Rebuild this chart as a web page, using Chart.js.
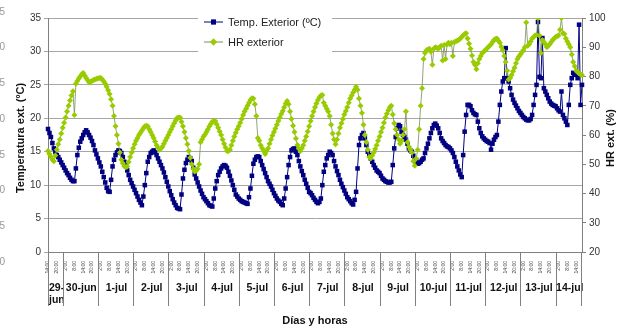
<!DOCTYPE html>
<html>
<head>
<meta charset="utf-8">
<script src="https://cdn.jsdelivr.net/npm/chart.js@4.4.1/dist/chart.umd.min.js"></script>
<style>
  html, body { margin: 0; padding: 0; background: #fff; }
</style>
</head>
<body>
<canvas id="climaChart" width="621" height="329"></canvas>
<script>
// Días del registro (el primero y el último están incompletos)
const dias = ['29-jun', '30-jun', '1-jul', '2-jul', '3-jul', '4-jul', '5-jul', '6-jul',
              '7-jul', '8-jul', '9-jul', '10-jul', '11-jul', '12-jul', '13-jul', '14-jul'];
// Horas de lectura
const horasPrimerDia = [14, 15, 16, 17, 18, 19, 20, 21, 22, 23];
const horasDia = [0, 1, 2, 3, 4, 5, 6, 7, 8, 9, 10, 11, 12, 13, 14, 15, 16, 17, 18, 19, 20, 21, 22, 23];
const horasUltimoDia = [0, 1, 2, 3, 4, 5, 6, 7, 8, 9, 10, 11, 12, 13, 14, 15, 16, 17, 18];

// Temperatura exterior (ºC), una fila por día
const tempExt = [
  18.4, 17.8, 17.2, 16.3, 15.5, 15.0, 14.5, 14.2, 13.8, 13.4,
  13.0, 12.6, 12.2, 11.8, 11.5, 11.1, 10.8, 10.6, 10.6, 12.5, 14.5, 15.6, 16.5, 17.0, 17.5, 17.9, 18.2, 17.9, 17.5, 17.1, 16.6, 16.0, 15.2, 14.6,
  14.0, 13.4, 12.8, 12.0, 11.2, 10.4, 9.6, 9.1, 9.0, 10.8, 12.8, 13.8, 14.5, 14.9, 15.2, 15.1, 14.8, 14.2, 13.5, 12.9, 12.2, 11.5, 10.8, 10.3,
  9.8, 9.3, 8.8, 8.3, 7.8, 7.4, 7.0, 8.3, 10.0, 11.8, 13.5, 14.2, 14.8, 15.0, 15.2, 14.9, 14.5, 14.0, 13.5, 13.0, 12.5, 11.9, 11.2, 10.5,
  9.8, 9.1, 8.5, 7.9, 7.4, 7.0, 6.6, 6.5, 6.4, 8.6, 11.0, 12.3, 13.3, 13.8, 14.2, 14.0, 13.6, 12.6, 11.6, 11.0, 10.4, 9.8, 9.2, 8.7,
  8.2, 7.9, 7.6, 7.3, 7.0, 6.9, 6.8, 8.0, 9.5, 10.6, 11.5, 12.0, 12.5, 12.8, 13.0, 12.9, 12.6, 12.0, 11.4, 10.7, 10.0, 9.3, 8.6, 8.3,
  8.0, 7.8, 7.6, 7.5, 7.4, 7.3, 7.2, 8.2, 9.5, 11.4, 13.2, 13.8, 14.2, 14.3, 14.2, 13.6, 13.0, 12.4, 11.8, 11.2, 10.6, 10.2, 9.8, 9.3,
  8.8, 8.4, 8.0, 7.7, 7.5, 7.2, 7.0, 8.0, 9.5, 11.2, 13.0, 14.2, 15.2, 15.4, 15.5, 15.0, 14.5, 13.6, 12.8, 12.1, 11.5, 10.8, 10.2, 9.6,
  9.0, 8.8, 8.5, 8.1, 7.8, 7.5, 7.3, 7.5, 8.0, 10.0, 12.0, 13.0, 14.0, 14.5, 15.0, 14.8, 14.5, 13.6, 12.8, 12.1, 11.5, 10.8, 10.2, 9.7,
  9.2, 8.7, 8.2, 7.9, 7.6, 7.3, 7.1, 7.8, 9.0, 12.5, 16.0, 17.0, 17.5, 17.8, 17.0, 16.0, 15.0, 14.5, 14.0, 13.5, 13.0, 12.6, 12.2, 12.0,
  11.8, 11.4, 11.0, 10.8, 10.6, 10.5, 10.4, 10.4, 10.5, 13.0, 15.5, 17.2, 18.5, 19.0, 18.8, 18.0, 17.5, 17.2, 16.8, 16.2, 15.5, 15.2, 15.0, 14.4,
  13.8, 13.5, 13.2, 13.3, 13.5, 13.8, 14.0, 14.8, 15.5, 16.2, 17.0, 17.8, 18.5, 19.0, 19.2, 18.9, 18.5, 17.8, 17.0, 16.6, 16.3, 16.0, 15.8, 15.7,
  15.5, 15.2, 14.8, 14.2, 13.5, 12.8, 12.2, 11.6, 11.2, 14.5, 18.0, 20.5, 22.0, 22.0, 21.8, 21.2, 20.8, 20.6, 20.5, 19.5, 18.5, 17.8, 17.3, 17.0,
  16.8, 16.6, 16.5, 16.3, 15.3, 16.2, 16.8, 17.2, 17.5, 19.5, 22.0, 24.0, 25.5, 26.0, 30.5, 26.0, 25.5, 24.5, 23.5, 22.8, 22.3, 21.9, 21.5, 21.1,
  20.8, 20.5, 20.2, 20.0, 19.8, 19.7, 19.7, 19.9, 20.5, 22.0, 23.5, 25.0, 34.4, 26.2, 26.0, 32.0, 24.5, 24.0, 23.5, 23.0, 22.5, 22.2, 22.0, 21.9,
  21.8, 21.5, 21.2, 21.0, 24.0, 20.5, 20.0, 19.5, 19.0, 22.0, 25.0, 26.0, 26.8, 26.6, 26.5, 26.0, 34.0, 22.0, 25.0
];

// Humedad relativa exterior (%), una fila por día
const hrExt = [
  54.5, 53.5, 52.5, 51.5, 51.0, 53.0, 55.0, 56.8, 58.5, 60.5,
  62.5, 64.2, 66.0, 68.0, 70.0, 71.8, 73.5, 75.0, 66.8, 77.5, 78.5, 79.3, 80.0, 80.8, 81.2, 80.3, 79.5, 78.8, 78.0, 78.2, 78.5, 78.8, 79.0, 79.2,
  79.3, 79.5, 79.5, 79.0, 78.3, 77.5, 76.5, 75.3, 74.0, 72.2, 70.0, 66.5, 63.0, 60.0, 57.0, 54.0, 51.5, 50.3, 49.3, 49.0, 49.2, 50.8, 52.5, 54.0,
  55.5, 56.8, 58.0, 59.0, 60.0, 60.8, 61.5, 62.3, 63.0, 63.2, 63.0, 62.0, 61.0, 60.0, 59.0, 57.8, 56.5, 55.6, 55.0, 55.4, 56.0, 57.0, 58.0, 59.0,
  60.0, 61.0, 62.0, 63.0, 64.0, 65.0, 65.8, 66.0, 66.0, 64.5, 63.0, 61.0, 59.0, 56.8, 54.5, 52.2, 50.0, 48.5, 47.5, 47.8, 48.5, 50.0, 57.5, 58.5,
  59.5, 60.2, 61.0, 62.0, 63.0, 63.8, 64.5, 64.8, 64.8, 63.7, 62.5, 61.2, 60.0, 58.5, 57.0, 55.7, 54.5, 54.5, 55.0, 56.5, 58.0, 59.5, 60.8, 62.0,
  63.0, 64.2, 65.5, 66.8, 68.0, 69.0, 70.0, 71.0, 72.0, 72.6, 72.5, 70.5, 66.5, 59.0, 58.0, 56.5, 55.5, 54.5, 53.5, 54.5, 55.5, 57.0, 58.5, 59.8,
  61.0, 62.2, 63.5, 64.8, 66.0, 67.2, 68.2, 69.5, 70.8, 71.6, 70.5, 68.0, 65.5, 63.2, 61.0, 58.8, 56.6, 55.4, 54.5, 55.5, 56.5, 58.0, 59.5, 61.2,
  63.0, 64.8, 66.5, 68.0, 69.5, 70.8, 72.0, 72.8, 73.5, 73.7, 71.0, 70.0, 69.0, 68.0, 66.5, 63.5, 60.5, 58.5, 56.8, 58.5, 60.5, 62.5, 64.0, 65.5,
  67.0, 68.2, 69.5, 71.0, 72.5, 73.5, 74.5, 75.5, 76.5, 75.5, 72.5, 70.0, 67.5, 63.5, 60.0, 57.5, 55.0, 52.5, 52.0, 53.0, 54.0, 55.2, 56.5, 58.0,
  59.5, 61.0, 62.5, 64.2, 66.0, 67.3, 68.5, 69.5, 70.0, 67.0, 64.0, 62.0, 60.0, 58.5, 57.0, 58.0, 60.0, 62.0, 68.0, 57.5, 56.0, 55.0, 54.0, 51.0,
  49.5, 52.0, 55.0, 62.0, 70.0, 76.0, 86.0, 88.0, 89.0, 89.2, 89.5, 88.5, 84.0, 89.5, 90.0, 89.8, 89.5, 90.0, 90.5, 85.5, 90.8, 86.0, 91.0, 91.5,
  91.0, 91.5, 87.0, 91.8, 92.0, 92.3, 92.5, 93.0, 93.5, 94.0, 94.5, 94.8, 93.0, 91.2, 89.5, 87.2, 85.0, 84.0, 82.5, 84.5, 86.0, 87.0, 88.0, 88.5,
  89.0, 89.5, 90.0, 90.5, 91.0, 91.8, 92.5, 92.8, 93.0, 92.2, 91.5, 90.2, 89.0, 87.0, 85.0, 82.0, 79.0, 79.5, 80.5, 81.8, 83.0, 84.5, 86.0, 86.8,
  87.5, 88.3, 89.0, 90.0, 98.5, 90.5, 91.0, 92.0, 93.0, 93.5, 94.0, 94.2, 100.0, 94.0, 88.0, 92.5, 91.8, 91.0, 90.0, 90.5, 91.0, 91.8, 92.5, 93.0,
  93.5, 93.8, 94.0, 96.0, 100.0, 94.8, 94.5, 93.0, 92.0, 91.0, 90.0, 87.5, 85.0, 83.5, 82.0, 81.5, 81.0, 80.8, 80.5
];

// Restos del eje de otro gráfico que asoman por la izquierda
const ejeFantasma = ['35', '30', '25', '20', '15', '10', '5', '0'];

// Etiquetas horarias e índice donde empieza cada día
const etiquetas = [];
const inicioDia = [];
dias.forEach(function (dia, d) {
  let horas = horasDia;
  if (d === 0) horas = horasPrimerDia;
  if (d === dias.length - 1) horas = horasUltimoDia;
  inicioDia.push(etiquetas.length);
  horas.forEach(function (h) { etiquetas.push(h + ':00'); });
});

const azul = '#000080';
const verde = '#99cc00';
const lineaHr = '#7a8a5a';
const gris = '#808080';
Chart.defaults.font.family = "'Liberation Sans', Arial, sans-serif";
Chart.defaults.color = '#222';

// Leyenda, días, títulos de ejes
const decoracion = {
  id: 'decoracion',
  afterDraw(chart) {
    const ctx = chart.ctx;
    const area = chart.chartArea;
    const x = chart.scales.x;
    ctx.save();

    // leyenda dentro del área
    ctx.fillStyle = '#fff';
    ctx.fillRect(198, 11, 134, 44);
    const filas = [['Temp. Exterior (ºC)', azul, azul, 'rect', 22],
                   ['HR exterior', verde, lineaHr, 'rectRot', 42]];
    filas.forEach(function (f) {
      ctx.strokeStyle = f[2];
      ctx.lineWidth = 1;
      ctx.beginPath();
      ctx.moveTo(204, f[4]);
      ctx.lineTo(223, f[4]);
      ctx.stroke();
      ctx.fillStyle = f[1];
      Chart.helpers.drawPoint(ctx, { pointStyle: f[3], radius: 3.4, borderWidth: 0 }, 213.5, f[4]);
      ctx.fill();
      ctx.fillStyle = '#222';
      ctx.font = "11px 'Liberation Sans', Arial, sans-serif";
      ctx.textAlign = 'left';
      ctx.textBaseline = 'middle';
      ctx.fillText(f[0], 228, f[4] + 0.5);
    });

    // separadores y nombres de los días
    ctx.strokeStyle = gris;
    ctx.lineWidth = 1;
    ctx.font = "bold 10.5px 'Liberation Sans', Arial, sans-serif";
    ctx.fillStyle = '#111';
    ctx.textBaseline = 'middle';
    dias.forEach(function (dia, d) {
      const x0 = d === 0 ? area.left : x.getPixelForValue(inicioDia[d]);
      const x1 = d === dias.length - 1 ? area.right : x.getPixelForValue(inicioDia[d + 1]);
      ctx.beginPath();
      ctx.moveTo(Math.round(x0) + 0.5, area.bottom);
      ctx.lineTo(Math.round(x0) + 0.5, 306);
      ctx.stroke();
      if (d === 0) {
        ctx.textAlign = 'left';
        const partes = dia.split('-');
        ctx.fillText(partes[0] + '-', x0 + 1, 288);
        ctx.fillText(partes[1], x0 + 1, 300);
      } else {
        ctx.textAlign = 'center';
        ctx.fillText(dia, (x0 + x1) / 2 + 1, 288);
      }
    });
    ctx.beginPath();
    ctx.moveTo(Math.round(area.right) - 0.5, area.bottom);
    ctx.lineTo(Math.round(area.right) - 0.5, 306);
    ctx.stroke();

    // títulos
    ctx.font = "bold 11px 'Liberation Sans', Arial, sans-serif";
    ctx.textAlign = 'center';
    ctx.fillStyle = '#111';
    ctx.fillText('Días y horas', (area.left + area.right) / 2, 321);
    ctx.save();
    ctx.translate(21, 138);
    ctx.rotate(-Math.PI / 2);
    ctx.fillText('Temperatura ext. (ºC)', 0, 0);
    ctx.restore();
    ctx.save();
    ctx.translate(611, 138);
    ctx.rotate(-Math.PI / 2);
    ctx.fillText('HR ext. (%)', 0, 0);
    ctx.restore();

    // números cortados del borde izquierdo
    ctx.font = "10px 'Liberation Sans', Arial, sans-serif";
    ctx.fillStyle = '#999';
    ctx.textAlign = 'right';
    ejeFantasma.forEach(function (t, i) {
      ctx.fillText(t, 5, 12 + i * 35.7);
    });
    ctx.restore();
  }
};

const ctx = document.getElementById('climaChart').getContext('2d');
new Chart(ctx, {
  type: 'line',
  data: {
    labels: etiquetas,
    datasets: [{
      label: 'Temp. Exterior (ºC)',
      data: tempExt,
      yAxisID: 'y',
      borderColor: azul,
      borderWidth: 1,
      backgroundColor: azul,
      pointStyle: 'rect',
      pointRadius: 3.2,
      pointBorderWidth: 0,
      pointBackgroundColor: azul,
      tension: 0,
      order: 2
    }, {
      label: 'HR exterior',
      data: hrExt,
      yAxisID: 'y1',
      borderColor: lineaHr,
      borderWidth: 0.8,
      backgroundColor: verde,
      pointStyle: 'rectRot',
      pointRadius: 3.0,
      pointBorderWidth: 0,
      pointBackgroundColor: verde,
      tension: 0,
      order: 1
    }]
  },
  options: {
    responsive: false,
    animation: false,
    layout: { padding: { top: 18, left: 0, right: 0, bottom: 0 } },
    plugins: {
      legend: { display: false },
      tooltip: { enabled: false }
    },
    scales: {
      x: {
        type: 'category',
        grid: { display: false },
        border: { color: gris },
        ticks: {
          autoSkip: false,
          minRotation: 90,
          maxRotation: 90,
          padding: 1,
          font: { size: 5 },
          color: '#444',
          callback: function (v, i) {
            const h = parseInt(etiquetas[i], 10);
            return h % 6 === 2 ? etiquetas[i] : '';
          }
        },
        afterFit: function (s) { s.height = 77; }
      },
      y: {
        position: 'left',
        min: 0,
        max: 35,
        ticks: { stepSize: 5, padding: 3, font: { size: 10 }, color: '#333' },
        grid: { color: '#a6a6a6', tickLength: 4 },
        border: { color: gris },
        afterFit: function (s) { s.width = 48; }
      },
      y1: {
        position: 'right',
        min: 20,
        max: 100,
        ticks: { stepSize: 10, padding: 3, font: { size: 10 }, color: '#333' },
        grid: { drawOnChartArea: false, color: gris, tickLength: 4 },
        border: { color: gris },
        afterFit: function (s) { s.width = 39; }
      }
    }
  },
  plugins: [decoracion]
});
</script>
</body>
</html>
